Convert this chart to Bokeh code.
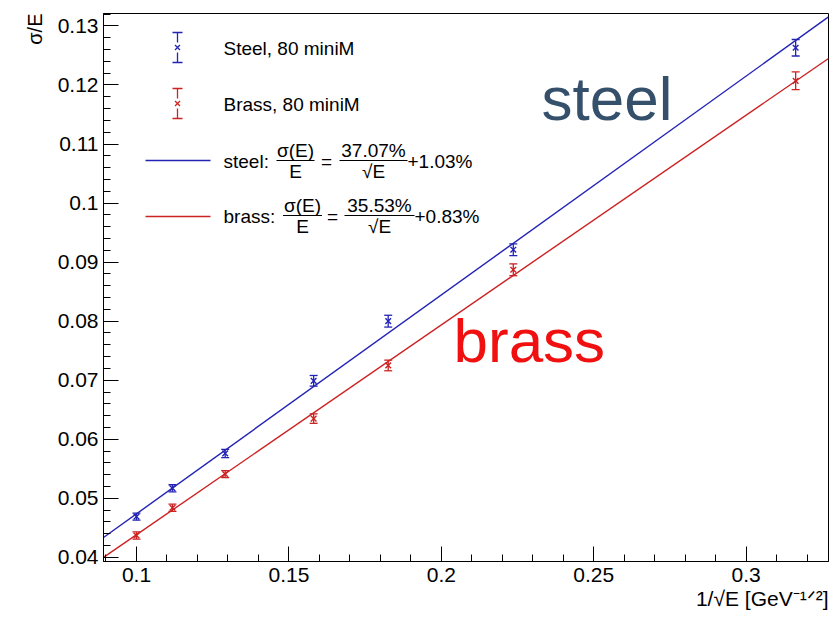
import numpy as np
from bokeh.plotting import figure
from bokeh.models import (Range1d, SingleIntervalTicker, CustomJSTickFormatter, Label,
                          ColumnDataSource, Whisker, TeeHead, Title)
from bokeh.embed import file_html
from bokeh.resources import INLINE

# ---------------- data ----------------
energies = [100, 80, 60, 40, 30, 20, 10]          # GeV
inv_sqrt_e = [1 / np.sqrt(e) for e in energies]
steel_res = [0.0469, 0.0517, 0.0576, 0.0699, 0.0800, 0.0921, 0.1263]
steel_err = [0.0006, 0.0006, 0.0007, 0.0009, 0.0010, 0.0010, 0.0014]
brass_res = [0.0437, 0.0484, 0.0541, 0.0635, 0.0725, 0.0887, 0.1207]
brass_err = [0.0006, 0.0006, 0.0006, 0.0008, 0.0009, 0.0010, 0.0015]
steel_fit = [0.3707, 0.0103]   # slope (stochastic), constant
brass_fit = [0.3553, 0.0083]
x_ticks_interval = 0.05
y_ticks_interval = 0.01

# ---------------- layout ----------------
W, H = 832, 617
BL, BR, BT, BB = 103, 4, 13, 56
X0, X1 = 0.08918, 0.3270
Y0, Y1 = 0.0393, 0.1321
FW, FH = W - BL - BR, H - BT - BB

def px(X):
    return X0 + (X - BL) / FW * (X1 - X0)

def py(Y):
    return Y1 - (Y - BT) / FH * (Y1 - Y0)

BLUE = "#2323b5"
RED = "#cc2222"
FONT = "Liberation Sans"

p = figure(width=W, height=H, output_backend="svg", toolbar_location=None,
           x_range=Range1d(X0, X1), y_range=Range1d(Y0, Y1),
           min_border_left=BL, min_border_right=BR, min_border_top=BT, min_border_bottom=BB)
p.background_fill_color = "white"
p.border_fill_color = "white"
p.outline_line_color = "black"
p.outline_line_width = 1
p.xgrid.visible = False
p.ygrid.visible = False

fmt = CustomJSTickFormatter(code="return String(parseFloat(tick.toFixed(4)));")
p.xaxis.ticker = SingleIntervalTicker(interval=x_ticks_interval, num_minor_ticks=5)
p.yaxis.ticker = SingleIntervalTicker(interval=y_ticks_interval, num_minor_ticks=5)
for ax in (p.xaxis[0], p.yaxis[0]):
    ax.formatter = fmt
    ax.major_tick_in = 15
    ax.major_tick_out = 0
    ax.minor_tick_in = 7
    ax.minor_tick_out = 0
    ax.major_label_text_font = FONT
    ax.major_label_text_font_size = "21px"
    ax.major_label_text_color = "black"
    ax.axis_line_color = "black"
    ax.major_tick_line_color = "black"
    ax.minor_tick_line_color = "black"
p.xaxis.major_label_standoff = 6
p.yaxis.major_label_standoff = 5

# axis titles (ROOT style: at the ends of the axes)
p.add_layout(Title(text="σ/E", align="right", text_font=FONT, text_font_style="normal",
                   text_font_size="20px", text_color="black", standoff=18), "left")
p.add_layout(Title(text="1/√E [GeV⁻¹ᐟ²]", align="right", text_font=FONT,
                   text_font_style="normal", text_font_size="21px", text_color="black",
                   standoff=0), "below")

# ---------------- fits ----------------
xf = [X0, X1]
p.line(xf, [steel_fit[0] * x + steel_fit[1] for x in xf], line_color=BLUE, line_width=1.4)
p.line(xf, [brass_fit[0] * x + brass_fit[1] for x in xf], line_color=RED, line_width=1.4)

# ---------------- data points ----------------
for res, err, col in ((steel_res, steel_err, BLUE), (brass_res, brass_err, RED)):
    src = ColumnDataSource(dict(x=inv_sqrt_e, y=res,
                                lo=[r - e for r, e in zip(res, err)],
                                hi=[r + e for r, e in zip(res, err)]))
    w = Whisker(source=src, base="x", lower="lo", upper="hi", line_color=col, line_width=1.3,
                upper_head=TeeHead(size=8, line_color=col, line_width=1.3),
                lower_head=TeeHead(size=8, line_color=col, line_width=1.3))
    p.add_layout(w)
    p.scatter("x", "y", source=src, marker="x", size=8, line_color=col, line_width=1.4)

# ---------------- text helpers ----------------
def lab(text, X, Y, size, color="black", align="left"):
    # Y is the vertical middle of the text, in pixels from the top
    p.add_layout(Label(x=px(X), y=py(Y), text=text, text_font=FONT,
                       text_font_size=f"{size}px", text_color=color,
                       text_align=align, text_baseline="middle"))

# legend: error-bar markers
for yc, col in ((47, BLUE), (103, RED)):
    xs = 177
    p.segment([px(xs)] * 2, [py(yc - 15), py(yc + 5)], [px(xs)] * 2, [py(yc - 5), py(yc + 15)],
              line_color=col, line_width=1.3)
    p.segment([px(xs - 5)] * 2, [py(yc - 15), py(yc + 15)], [px(xs + 5)] * 2,
              [py(yc - 15), py(yc + 15)], line_color=col, line_width=1.3)
    p.scatter([px(xs)], [py(yc)], marker="x", size=7, line_color=col, line_width=1.3)
lab("Steel, 80 miniM", 223, 48, 19)
lab("Brass, 80 miniM", 223, 104, 19)

# legend: fit lines
p.line([px(145), px(210)], [py(160)] * 2, line_color=BLUE, line_width=1.4)
p.line([px(145), px(210)], [py(216)] * 2, line_color=RED, line_width=1.4)

def formula(name, yb, x_name, x_f1, f1_w, x_eq, x_f2, f2_w, num2, tail):
    lab(name, x_name, yb + 1, 19)
    lab("σ(E)", x_f1, yb - 10, 19, align="center")
    p.segment([px(x_f1 - f1_w / 2)], [py(yb)], [px(x_f1 + f1_w / 2)], [py(yb)],
              line_color="black", line_width=1.2)
    lab("E", x_f1, yb + 11, 19, align="center")
    lab("=", x_eq, yb + 1, 19, align="center")
    lab(num2, x_f2, yb - 10, 19, align="center")
    p.segment([px(x_f2 - f2_w / 2)], [py(yb)], [px(x_f2 + f2_w / 2)], [py(yb)],
              line_color="black", line_width=1.2)
    lab("√E", x_f2, yb + 11, 19, align="center")
    lab(tail, x_f2 + f2_w / 2, yb + 1, 19)

formula("steel:", 160, 223, 295, 38, 326, 373, 68,
        f"{steel_fit[0]*100:.2f}%", f"+{steel_fit[1]*100:.2f}%")
formula("brass:", 215, 223, 302, 39, 332, 379, 70,
        f"{brass_fit[0]*100:.2f}%", f"+{brass_fit[1]*100:.2f}%")

# big annotations
lab("steel", 541, 98, 62, color="#34506b")
lab("brass", 453, 340, 62, color="#f01010")

open("out.html", "w").write(file_html(p, INLINE))
